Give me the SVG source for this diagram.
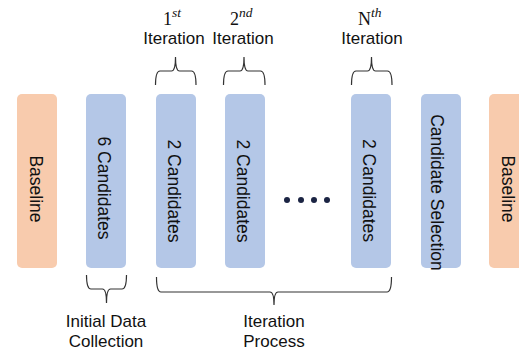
<svg xmlns="http://www.w3.org/2000/svg" width="519" height="352" viewBox="0 0 519 352">
<style>
.base{fill:#F8CBAD}
.cand{fill:#B4C7E7}
.lbl{font-family:"Liberation Sans",Arial,sans-serif;font-size:17.5px;fill:#111;text-anchor:middle}
.t{font-family:"Liberation Sans",Arial,sans-serif;font-size:17px;fill:#111;text-anchor:middle}
.m{font-family:"Liberation Serif","Times New Roman",serif;font-size:18px;fill:#111}
.sup{font-style:italic;font-size:13.5px}
.brace{fill:none;stroke:#333;stroke-width:1.2}
.dot{fill:#1B2443}
</style>
<rect width="519" height="352" fill="#fff"/>
<g id="baseline-left"><rect class="base" x="17" y="94" width="40" height="174" rx="5"/><text class="lbl" transform="translate(37,189) rotate(90)" y="7.5">Baseline</text></g>
<g id="initial"><rect class="cand" x="86" y="94" width="40" height="174" rx="5"/><text class="lbl" transform="translate(106,188) rotate(90)" y="8">6 Candidates</text></g>
<g id="iter1"><rect class="cand" x="156" y="94" width="40" height="174" rx="5"/><text class="lbl" transform="translate(176,191) rotate(90)" y="8">2 Candidates</text></g>
<g id="iter2"><rect class="cand" x="225" y="94" width="40" height="174" rx="5"/><text class="lbl" transform="translate(245,191) rotate(90)" y="8">2 Candidates</text></g>
<g id="dots"><circle class="dot" cx="287" cy="200" r="3"/><circle class="dot" cx="301" cy="200" r="3"/><circle class="dot" cx="314" cy="200" r="3"/><circle class="dot" cx="327" cy="200" r="3"/></g>
<g id="iterN"><rect class="cand" x="351" y="94" width="40" height="174" rx="5"/><text class="lbl" transform="translate(371,190.5) rotate(90)" y="8">2 Candidates</text></g>
<g id="selection"><rect class="cand" x="421" y="94" width="40" height="174" rx="5"/><text class="lbl" transform="translate(441,192.5) rotate(90)" y="10">Candidate Selection</text></g>
<g id="baseline-right"><rect class="base" x="489" y="94" width="40" height="174" rx="5"/><text class="lbl" transform="translate(509,189) rotate(90)" y="7">Baseline</text></g>
<g id="top-labels">
<text class="m" x="163" y="25">1<tspan class="sup" dy="-8">st</tspan></text>
<text class="t" x="174" y="44">Iteration</text>
<text class="m" x="230" y="25">2<tspan class="sup" dy="-8">nd</tspan></text>
<text class="t" x="243" y="44">Iteration</text>
<text class="m" x="358" y="25">N<tspan class="sup" dy="-8">th</tspan></text>
<text class="t" x="372" y="44">Iteration</text>
</g>
<g id="bottom-labels">
<text class="t" x="106" y="327">Initial Data</text>
<text class="t" x="106" y="347">Collection</text>
<text class="t" x="274" y="327">Iteration</text>
<text class="t" x="274" y="347">Process</text>
</g>
<g id="connectors">
<path class="brace" d="M155.5,85 Q155.5,71 160,71 L171.5,71 Q175.5,71 175.5,57 Q175.5,71 179.5,71 L191.5,71 Q196,71 196,85"/>
<path class="brace" d="M223.5,85 Q223.5,71 228,71 L240,71 Q244,71 244,57 Q244,71 248,71 L260.5,71 Q265,71 265,85"/>
<path class="brace" d="M351.5,85 Q351.5,71 356,71 L367.5,71 Q371.5,71 371.5,57 Q371.5,71 375.5,71 L387.5,71 Q392,71 392,85"/>
<path class="brace" d="M86.5,275 Q86.5,289 91,289 L102.5,289 Q106.5,289 106.5,303 Q106.5,289 110.5,289 L122,289 Q126.5,289 126.5,275"/>
<path class="brace" d="M156.5,277 Q156.5,292 161,292 L270,292 Q274,292 274,305 Q274,292 278,292 L387,292 Q391.5,292 391.5,277"/>
</g>
</svg>
